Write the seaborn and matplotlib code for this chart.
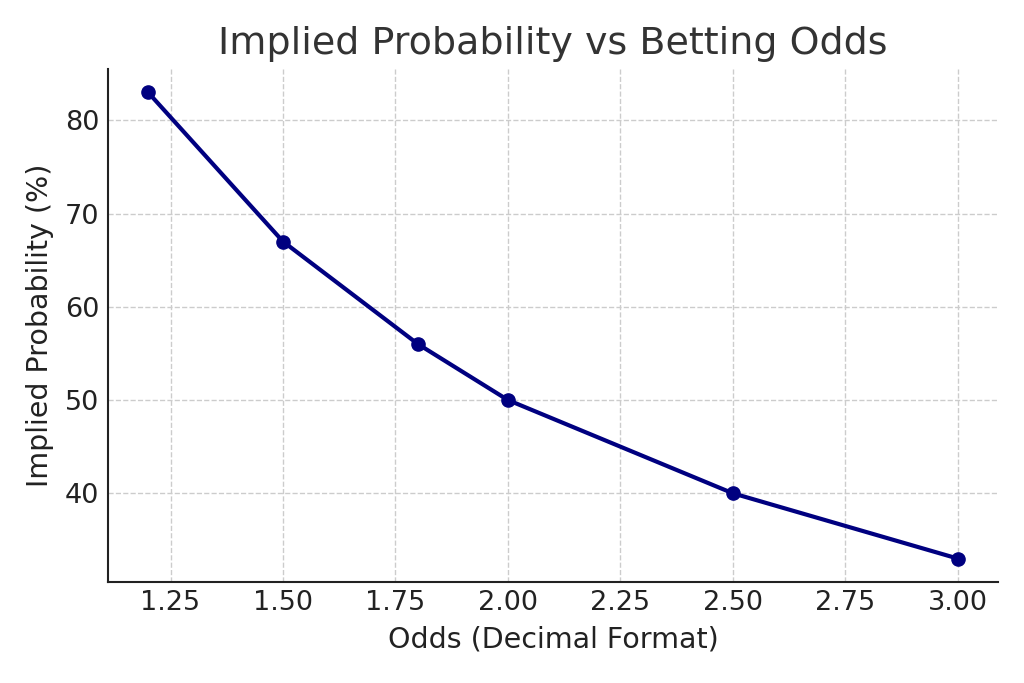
import matplotlib
matplotlib.use("Agg")
import matplotlib.pyplot as plt
import seaborn as sns
import pandas as pd

odds = [1.2, 1.5, 1.8, 2.0, 2.5, 3.0]
implied_prob = [83, 67, 56, 50, 40, 33]

df = pd.DataFrame({"odds": odds, "prob": implied_prob})

sns.set_theme(style="whitegrid")
plt.rcParams['font.family'] = ['DejaVu Sans']

fig, ax = plt.subplots(figsize=(10.24, 6.83), dpi=100)
sns.lineplot(data=df, x="odds", y="prob", ax=ax, color="navy", linewidth=3,
             marker="o", markersize=9.5, markeredgecolor="navy", markeredgewidth=1)

ax.set_title("Implied Probability vs Betting Odds", fontsize=27.4, color="#333333", pad=11)
ax.set_xlabel("Odds (Decimal Format)", fontsize=20.5, color="#222222", labelpad=7)
ax.set_ylabel("Implied Probability (%)", fontsize=20.5, color="#222222", labelpad=8)
ax.tick_params(axis="both", labelsize=19.5, colors="#222222", direction="in", length=4, width=1.2, pad=6)
ax.grid(True, linestyle="--", color="#cccccc", linewidth=1)
ax.set_facecolor("white")
for s in ["top", "right"]:
    ax.spines[s].set_visible(False)
for s in ["left", "bottom"]:
    ax.spines[s].set_color("#222222")
    ax.spines[s].set_linewidth(1.5)

fig.subplots_adjust(left=0.105, right=0.975, top=0.899, bottom=0.148)
fig.savefig("out.png", dpi=100, facecolor="white")
